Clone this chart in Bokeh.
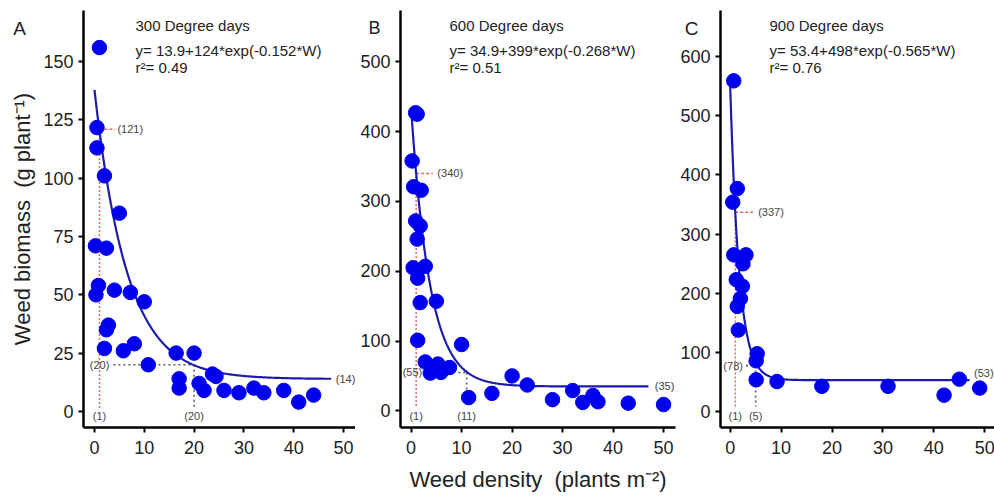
import numpy as np
from bokeh.plotting import figure
from bokeh.layouts import row
from bokeh.models import Label, Range1d, FixedTicker
from bokeh.embed import file_html
from bokeh.resources import INLINE

# ---------------- data ----------------
panel_letters = ["A", "B", "C"]
degree_days = ["300 Degree days", "600 Degree days", "900 Degree days"]
fit_a = [13.9, 34.9, 53.4]
fit_b = [124, 399, 498]
fit_c = [0.152, 0.268, 0.565]
r_squared = [0.49, 0.51, 0.76]
max_loss_label = [121, 340, 337]
crit_density = [20, 11, 5]
crit_biomass = [20, 55, 78]
asymptote_label = [14, 35, 53]

density_300 = [1.0, 0.5, 0.5, 2.0, 5.0, 0.2, 2.4, 0.8, 0.3, 4.0, 7.2, 10.0, 2.8, 2.4,
               2.0, 5.8, 8.0, 10.8, 16.4, 20.0, 17.0, 17.0, 21.0, 22.0, 23.7, 24.4,
               26.0, 29.0, 32.0, 34.0, 38.0, 41.0, 44.0]
biomass_300 = [156, 121.7, 113, 101, 85, 71, 70, 54, 50, 52, 51, 47, 37, 35,
               27, 26, 29, 20, 25, 25, 14, 10, 12, 9, 16, 15,
               9, 8, 10, 8, 9, 4, 7]

density_600 = [0.9, 1.2, 0.2, 0.5, 2.0, 0.9, 1.8, 1.2, 0.4, 2.8, 1.3, 1.8, 5.0, 1.3, 10.0,
               2.8, 3.8, 4.8, 5.3, 5.9, 7.6, 11.4, 16.0, 20.0, 23.0, 28.0, 32.0, 34.0,
               36.0, 37.0, 43.0, 50.0]
biomass_600 = [427, 425, 358, 321, 316, 272, 265, 246, 205, 207, 190, 155, 157, 101, 95,
               70, 54, 61, 67, 55, 62, 19, 25, 50, 37, 16, 29, 12,
               22, 13, 11, 9]

density_900 = [0.7, 1.4, 0.5, 0.7, 3.1, 2.5, 1.2, 2.4, 2.0, 1.4, 1.6, 5.3, 5.1, 5.1,
               9.2, 18.0, 31.0, 42.0, 45.0, 49.0]
biomass_900 = [559, 377, 354, 265, 265, 250, 223, 212, 191, 178, 138, 98, 86, 54,
               51, 43, 43, 28, 55, 40]

densities = [density_300, density_600, density_900]
biomasses = [biomass_300, biomass_600, biomass_900]

y_ticks_300 = [0, 25, 50, 75, 100, 125, 150]
y_ticks_600 = [0, 100, 200, 300, 400, 500]
y_ticks_900 = [0, 100, 200, 300, 400, 500, 600]
y_ticks = [y_ticks_300, y_ticks_600, y_ticks_900]
x_ticks = [0, 10, 20, 30, 40, 50]

# ---------------- layout / style ----------------
FONT = "Liberation Sans"
x_ranges = [(-2.2, 52.4), (-2.1, 52.36), (-1.9, 52.1)]
y_ranges = [(-6.9, 171.9), (-23.9, 573.5), (-26.6, 677.8)]
frame_w = [272, 275, 275]
border_l = [83, 45, 42]
border_r = [0, 2, 0]
curve_end = [47.5, 47.0, 47.0]
guide_floor = [1.5, 7, 9]
red_dash_end = [4.2, 4.3, 4.5]
red_label_x = [4.6, 5.2, 5.5]
grey_start = [3.8, 2.4, 3.1]
grey_label_right = [3.0, 2.2, 2.5]
asym_label_x = [50.4, 50.2, 49.8]
asym_label_dy = [0, 0, 7]
letter_dx = [-64, -28, -29]
letter_y_below = 449
text_dx = [52, 49, 49]

POINT = "#0000ee"
CURVE = "#1c1cab"
RED = "#e06a6a"
GREY = "#4f5f5f"
LABEL = "#444444"
NB = "\u00a0"

figs = []
for i in range(3):
    p = figure(frame_width=frame_w[i], frame_height=417,
               min_border_left=border_l[i], min_border_right=border_r[i],
               min_border_top=10, min_border_bottom=70,
               x_range=Range1d(*x_ranges[i]), y_range=Range1d(*y_ranges[i]),
               output_backend="svg", toolbar_location=None,
               background_fill_color="white", border_fill_color="white")
    p.outline_line_color = None
    p.grid.grid_line_color = None
    for ax in (p.xaxis[0], p.yaxis[0]):
        ax.axis_line_width = 2.5
        ax.axis_line_color = "black"
        ax.major_tick_line_width = 2
        ax.major_tick_line_color = "black"
        ax.major_tick_out = 5
        ax.major_tick_in = 0
        ax.minor_tick_line_color = None
        ax.major_label_text_font = FONT
        ax.major_label_text_font_size = "18px"
        ax.major_label_text_color = "#222222"
        ax.axis_label_text_font = FONT
        ax.axis_label_text_font_size = "22px"
        ax.axis_label_text_font_style = "normal"
        ax.axis_label_text_color = "#222222"
    p.xaxis.ticker = FixedTicker(ticks=x_ticks)
    p.yaxis.ticker = FixedTicker(ticks=y_ticks[i])
    p.yaxis.major_label_standoff = 5
    p.xaxis.major_label_standoff = 8
    if i == 0:
        p.yaxis.axis_label = f"Weed biomass{NB}{NB}(g plant\u207b\u00b9)"
        p.yaxis.axis_label_standoff = 5
    if i == 1:
        p.xaxis.axis_label = f"Weed density{NB}{NB}(plants m\u207b\u00b2)"
        p.xaxis.axis_label_standoff = 10
        # panel letter carried by the top tick label (no room in a side panel)
        top = y_ticks[i][-1]
        p.yaxis.major_label_overrides = {top: f"{panel_letters[i]}{NB}{NB}\n\n{top}\n\n"}
        p.yaxis.major_label_text_line_height = 0.85

    a, b, c = fit_a[i], fit_b[i], fit_c[i]

    # guide lines: red (maximum loss at 1 plant)
    p.segment(x0=[1], y0=[guide_floor[i]], x1=[1], y1=[max_loss_label[i]],
              line_color=RED, line_width=1.5, line_dash="2 2")
    p.segment(x0=[1], y0=[max_loss_label[i]], x1=[red_dash_end[i]], y1=[max_loss_label[i]],
              line_color=RED, line_width=1.5, line_dash="3 2")
    # grey (critical density)
    p.segment(x0=[grey_start[i]], y0=[crit_biomass[i]], x1=[crit_density[i]], y1=[crit_biomass[i]],
              line_color=GREY, line_width=1.6, line_dash="2 3")
    p.segment(x0=[crit_density[i]], y0=[crit_biomass[i]], x1=[crit_density[i]], y1=[guide_floor[i]],
              line_color=GREY, line_width=1.6, line_dash="2 3")

    # fitted curve
    w = np.linspace(0, curve_end[i], 300)
    p.line(w, a + b * np.exp(-c * w), line_color=CURVE, line_width=2.2)

    # points
    p.scatter(densities[i], biomasses[i], size=14.5, marker="circle",
              fill_color=POINT, line_color=POINT)

    # small value labels
    small = dict(text_font=FONT, text_font_size="11px", text_color=LABEL)
    p.add_layout(Label(x=red_label_x[i], y=max_loss_label[i], text=f"({max_loss_label[i]})",
                       text_align="left", text_baseline="middle", **small))
    p.add_layout(Label(x=grey_label_right[i], y=crit_biomass[i], text=f"({crit_biomass[i]})",
                       text_align="right", text_baseline="middle", **small))
    p.add_layout(Label(x=1, y=12, y_units="screen", text="(1)",
                       text_align="center", text_baseline="middle", **small))
    p.add_layout(Label(x=crit_density[i], y=12, y_units="screen", text=f"({crit_density[i]})",
                       text_align="center", text_baseline="middle", **small))
    p.add_layout(Label(x=asym_label_x[i], y=asymptote_label[i], y_offset=asym_label_dy[i],
                       text=f"({asymptote_label[i]})",
                       text_align="center", text_baseline="middle", **small))

    # panel texts
    big = dict(text_font=FONT, text_font_size="15px", text_color="#222222",
               text_align="left", text_baseline="middle", x_units="screen", y_units="screen")
    p.add_layout(Label(x=text_dx[i], y=402, text=degree_days[i], **big))
    p.add_layout(Label(x=text_dx[i], y=377,
                       text=f"y= {a:g}+{b:g}*exp(-{c:g}*W)", **big))
    p.add_layout(Label(x=text_dx[i], y=360, text=f"r\u00b2= {r_squared[i]:.2f}", **big))
    if i != 1:
        # side-panel label (not clipped to the frame), moved up to the panel corner
        p.add_layout(Label(x=letter_dx[i], y=letter_y_below, x_units="screen", y_units="screen",
                           text=panel_letters[i], text_font=FONT, text_font_size="19px",
                           text_color="#222222", text_align="center", text_baseline="middle"),
                     "below")
    figs.append(p)

layout = row(*figs)
open("out.html", "w").write(file_html(layout, INLINE))
